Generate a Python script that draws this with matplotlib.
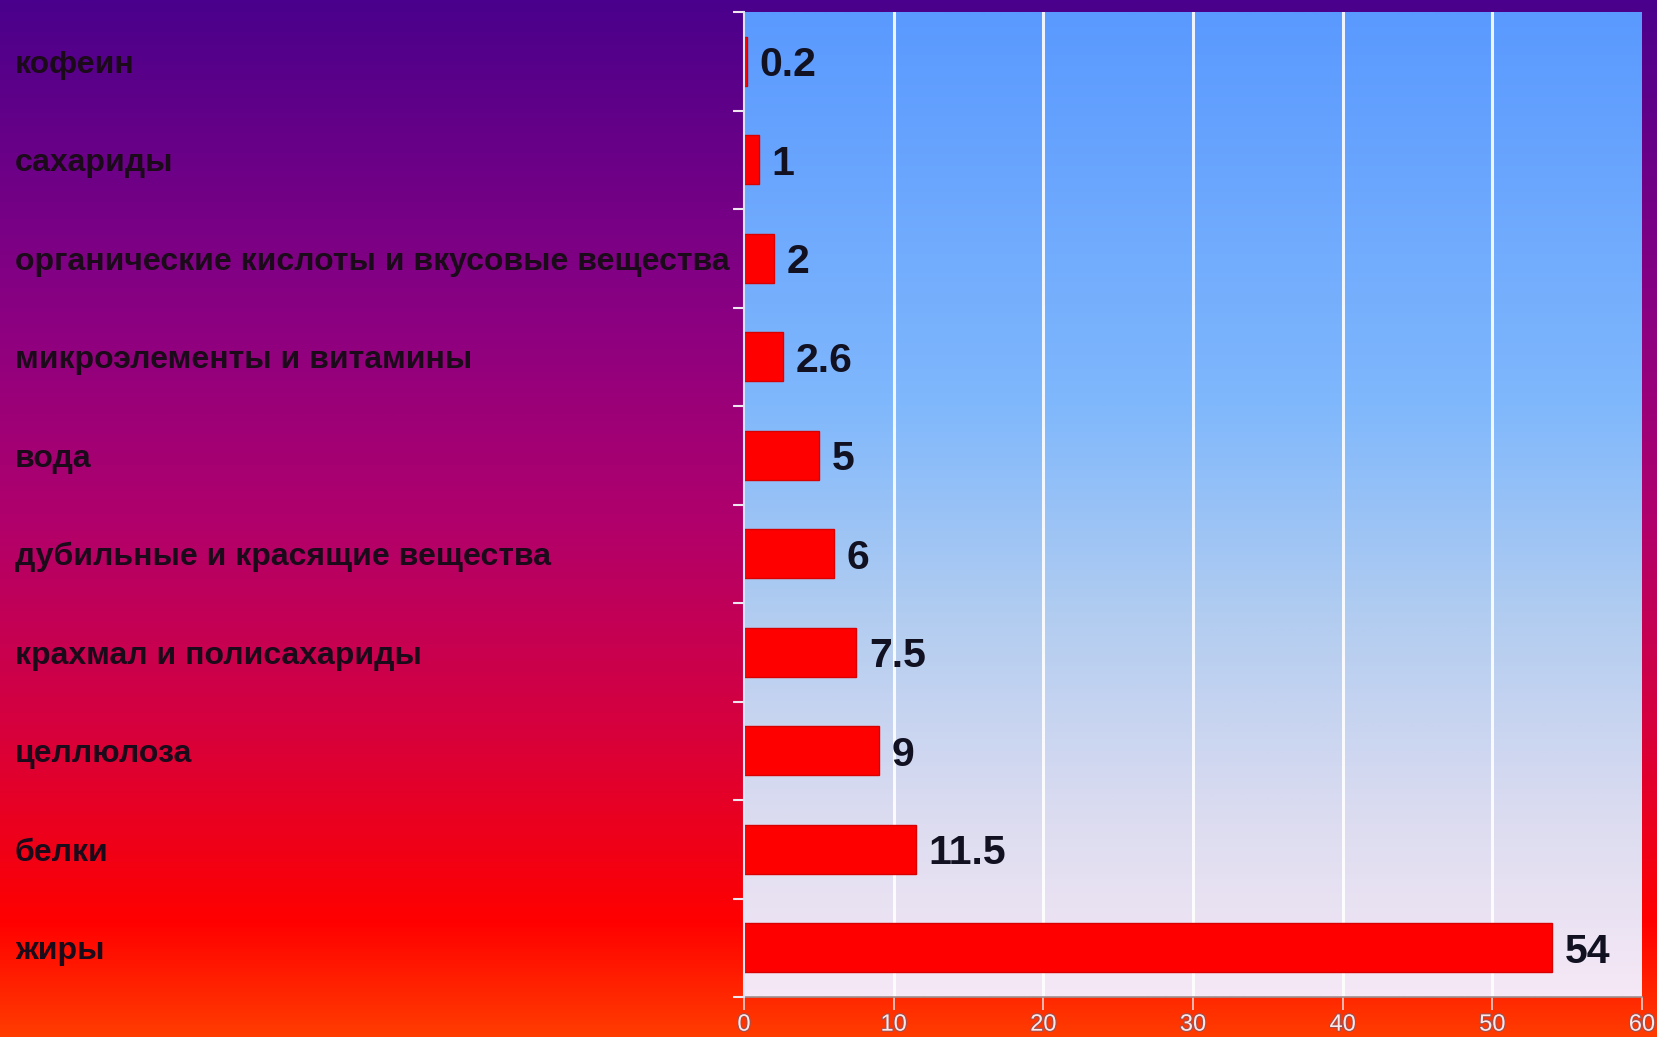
import numpy as np
import matplotlib
matplotlib.use("Agg")
import matplotlib.pyplot as plt
from matplotlib.colors import LinearSegmentedColormap
from matplotlib.ticker import FixedLocator
from matplotlib.transforms import blended_transform_factory, IdentityTransform
import matplotlib.patheffects as pe

# Composition of tea leaf, percent
categories = [
    "кофеин",
    "сахариды",
    "органические кислоты и вкусовые вещества",
    "микроэлементы и витамины",
    "вода",
    "дубильные и красящие вещества",
    "крахмал и полисахариды",
    "целлюлоза",
    "белки",
    "жиры",
]
values = [0.2, 1, 2, 2.6, 5, 6, 7.5, 9, 11.5, 54]
value_labels = ["0.2", "1", "2", "2.6", "5", "6", "7.5", "9", "11.5", "54"]
x_ticks = [0, 10, 20, 30, 40, 50, 60]

W, H, DPI = 1658, 1037, 100
fig = plt.figure(figsize=(W / DPI, H / DPI), dpi=DPI)

# page background: purple at top fading through magenta to red/orange
bg = fig.add_axes([0, 0, 1, 1], zorder=-10)
bg_cmap = LinearSegmentedColormap.from_list(
    "page",
    [(0.0, "#4a008c"), (0.3, "#8a0082"), (0.5, "#b0006c"),
     (0.7, "#d6003e"), (0.89, "#ff0000"), (1.0, "#ff3c00")],
)
bg.imshow(np.linspace(0, 1, 512).reshape(-1, 1), aspect="auto",
          cmap=bg_cmap, extent=[0, 1, 1, 0])
bg.set_xlim(0, 1)
bg.set_ylim(1, 0)
bg.axis("off")

left, right, top, bottom = 744, 1642, 12, 997
ax = fig.add_axes([left / W, 1 - bottom / H, (right - left) / W, (bottom - top) / H])
ax.set_facecolor("none")

n = len(categories)
ax.set_xlim(0, 60)
ax.set_ylim(n - 0.5, -0.5)

# plot-area gradient: blue at top to pale lavender at bottom
plot_cmap = LinearSegmentedColormap.from_list(
    "plot",
    [(0.0, "#5a99ff"), (0.4, "#80b8fc"), (0.62, "#b3cdf0"),
     (0.82, "#dcdcf0"), (1.0, "#f6e8f6")],
)
ax.imshow(np.linspace(0, 1, 512).reshape(-1, 1), aspect="auto", cmap=plot_cmap,
          extent=[0, 60, n - 0.5, -0.5], zorder=0)

for xv in x_ticks[1:-1]:
    ax.axvline(xv, color="white", lw=2.2, alpha=0.9, zorder=1)

ypos = np.arange(n)
ax.barh(ypos, values, height=0.5, color="#ff0000", edgecolor="#d80000",
        linewidth=1.0, zorder=3)

for y, v, lab in zip(ypos, values, value_labels):
    ax.text(v + 0.85, y, lab, va="center_baseline", ha="left", fontsize=29.5,
            fontweight="bold", color="#111122", family="Liberation Sans",
            zorder=4)

# category labels, left aligned at the page edge
ax.set_yticks(ypos)
ax.set_yticklabels([])
ax.tick_params(axis="y", which="major", length=0)
label_tf = blended_transform_factory(IdentityTransform(), ax.transData)
for y, name in zip(ypos, categories):
    ax.text(15, y, name, transform=label_tf, va="center_baseline", ha="left",
            fontsize=23, fontweight="bold", color="#1a0a1a",
            family="Liberation Sans", clip_on=False)

ax.yaxis.set_minor_locator(FixedLocator(np.arange(-0.5, n, 1.0)))
ax.tick_params(axis="y", which="minor", length=8, width=1.5,
               color="#f0e8f0", direction="out")

ax.set_xticks(x_ticks)
ax.set_xticklabels([str(t) for t in x_ticks])
ax.tick_params(axis="x", length=9, width=1.2, color="#e8d0d0", pad=3,
               labelsize=17, labelcolor="#ffe8e8")
for t in ax.get_xticklabels():
    t.set_family("Liberation Sans")
    t.set_path_effects([pe.withStroke(linewidth=1.6, foreground="#a05050")])

for s in ("top", "right"):
    ax.spines[s].set_visible(False)
ax.spines["left"].set_color("#d8e4f8")
ax.spines["left"].set_linewidth(1.5)
ax.spines["bottom"].set_color("#a09090")
ax.spines["bottom"].set_linewidth(1.2)
ax.spines["left"].set_zorder(5)

fig.savefig("out.png", dpi=DPI)
